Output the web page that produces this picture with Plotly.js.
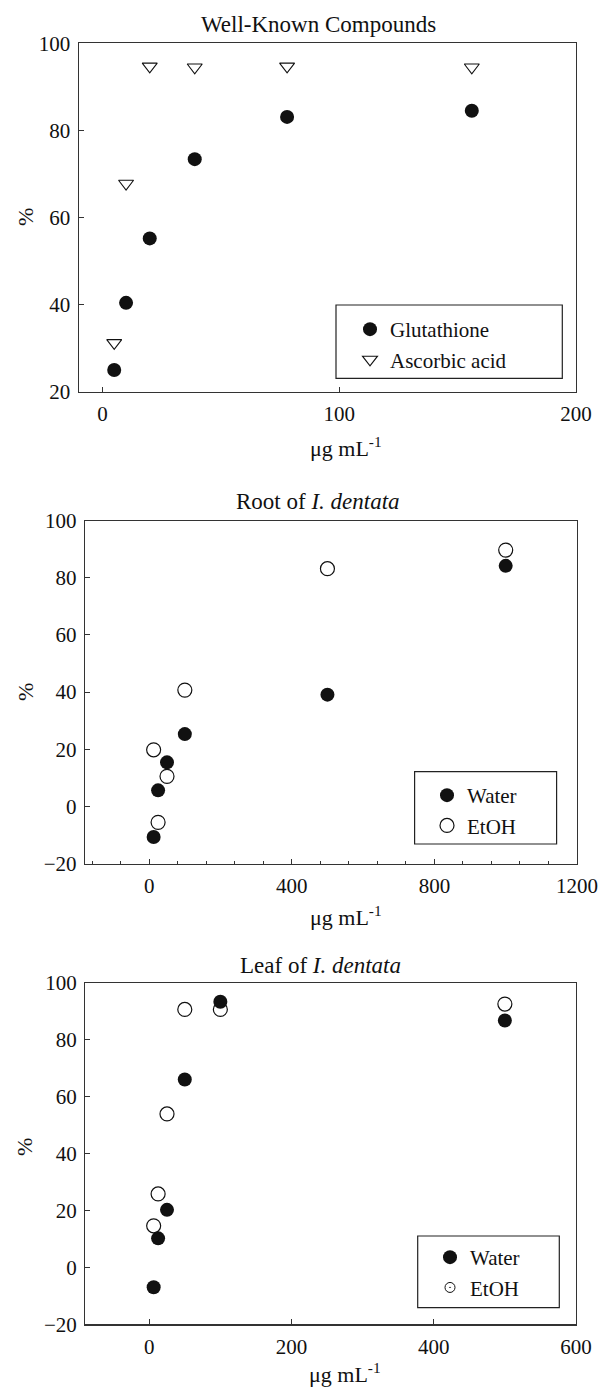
<!DOCTYPE html>
<html><head><meta charset="utf-8">
<script src="https://cdn.plot.ly/plotly-3.0.1.min.js"></script>
<style>html,body{margin:0;padding:0;background:#fff}</style>
</head><body><div id="chart" style="width:602px;height:1391px"></div>
<script>
// ---- data ----
const conc1 = [5, 10, 20, 39, 78, 156];
const glutathione = [25, 40.4, 55.2, 73.4, 83.1, 84.5];
const ascorbic = [31.2, 67.8, 94.7, 94.5, 94.7, 94.5];

const concRoot = [12.5, 25, 50, 100, 500, 1000];
const rootWater = [-10.7, 5.6, 15.4, 25.3, 39.1, 84.2];
const rootEtOH = [19.8, -5.6, 10.5, 40.7, 83.2, 89.7];

const concLeaf = [6.25, 12.5, 25, 50, 100, 500];
const leafWater = [-7, 10.2, 20.2, 66, 93.3, 86.7];
const leafEtOH = [14.6, 25.8, 53.9, 90.6, 90.6, 92.5];

const titles = ['Well-Known Compounds', 'Root of <i>I. dentata</i>', 'Leaf of <i>I. dentata</i>'];
const xTitle = 'μg mL<sup>-1</sup>';
const yTitle = '%';

// ---- layout helpers ----
const W = 602, H = 1391;
const px = v => v / W;
const py = v => 1 - v / H;
const FONT = '"Liberation Serif", "Times New Roman", serif';
const INK = '#111';

const filled = {symbol: 'circle', size: 14, color: INK, line: {width: 0}};
const openC = {symbol: 'circle-open', size: 14, color: INK, line: {width: 1.2, color: INK}};
const tri = {symbol: 'triangle-down-open', size: 13, color: INK, line: {width: 1.1, color: INK}};

const traces = [
  {x: conc1, y: glutathione, name: 'Glutathione', type: 'scatter', mode: 'markers', marker: filled, xaxis: 'x', yaxis: 'y', legend: 'legend'},
  {x: conc1, y: ascorbic, name: 'Ascorbic acid', type: 'scatter', mode: 'markers', marker: tri, xaxis: 'x', yaxis: 'y', legend: 'legend'},
  {x: concRoot, y: rootWater, name: 'Water', type: 'scatter', mode: 'markers', marker: filled, xaxis: 'x2', yaxis: 'y2', legend: 'legend2'},
  {x: concRoot, y: rootEtOH, name: 'EtOH', type: 'scatter', mode: 'markers', marker: openC, xaxis: 'x2', yaxis: 'y2', legend: 'legend2'},
  {x: concLeaf, y: leafWater, name: 'Water', type: 'scatter', mode: 'markers', marker: filled, xaxis: 'x3', yaxis: 'y3', legend: 'legend3'},
  {x: concLeaf, y: leafEtOH, name: 'EtOH', type: 'scatter', mode: 'markers', marker: openC, xaxis: 'x3', yaxis: 'y3', showlegend: false},
  {x: [null], y: [null], name: 'EtOH', type: 'scatter', mode: 'markers', marker: {symbol: 'circle-open-dot', size: 10, color: INK, line: {width: 1, color: INK}}, xaxis: 'x3', yaxis: 'y3', legend: 'legend3'}
];

function xax(domain, range, dtick, anchor, extra) {
  return Object.assign({
    domain: domain, range: range, dtick: dtick, tick0: 0, anchor: anchor,
    ticks: 'inside', ticklen: 5, tickwidth: 1, tickcolor: '#333',
    showline: true, mirror: true, linecolor: '#333', linewidth: 1.2,
    showgrid: false, zeroline: false,
    tickfont: {family: FONT, size: 21, color: INK},
    ticklabelstandoff: 3
  }, extra || {});
}
function yax(domain, range, anchor) {
  return {
    domain: domain, range: range, dtick: 20, tick0: 0, anchor: anchor,
    ticks: 'inside', ticklen: 5, tickwidth: 1, tickcolor: '#333',
    showline: true, mirror: true, linecolor: '#333', linewidth: 1.2,
    showgrid: false, zeroline: false,
    tickfont: {family: FONT, size: 21, color: INK},
    ticklabelstandoff: 3
  };
}

function legendAt(left, top) {
  return {x: px(left), y: py(top), xanchor: 'left', yanchor: 'top',
    bgcolor: 'rgba(0,0,0,0)', borderwidth: 0,
    font: {family: FONT, size: 21, color: INK}, itemsizing: 'trace'};
}
function box(x0, y0, x1, y1) {
  return {type: 'rect', xref: 'paper', yref: 'paper', x0: px(x0), x1: px(x1), y0: py(y1), y1: py(y0),
    line: {color: '#222', width: 1.2}, fillcolor: 'rgba(0,0,0,0)'};
}
function label(text, x, y, size, angle) {
  return {text: text, x: px(x), y: py(y), xref: 'paper', yref: 'paper', showarrow: false,
    xanchor: 'center', yanchor: 'middle', textangle: angle || 0,
    font: {family: FONT, size: size, color: INK}};
}

const layout = {
  width: W, height: H, margin: {l: 0, r: 0, t: 0, b: 0},
  paper_bgcolor: '#fff', plot_bgcolor: '#fff', showlegend: true,
  xaxis: xax([px(78.7), px(576)], [-10, 200], 100, 'y'),
  yaxis: yax([py(391.7), py(43.3)], [20, 100], 'x'),
  xaxis2: xax([px(85), px(577)], [-180, 1200], 400, 'y2', {minor: {dtick: 80, tick0: 0, ticks: 'inside', ticklen: 3, tickwidth: 1, tickcolor: '#333'}}),
  yaxis2: yax([py(863.5), py(520.7)], [-20, 100], 'x2'),
  xaxis3: xax([px(85.2), px(576)], [-90, 600], 200, 'y3'),
  yaxis3: yax([py(1324.3), py(982.7)], [-20, 100], 'x3'),
  legend: legendAt(350, 309),
  legend2: legendAt(427, 775),
  legend3: legendAt(430, 1237),
  shapes: [box(336, 305, 562.3, 378.3), box(414.6, 771.7, 556.6, 844), box(417.7, 1236, 559.3, 1307.7)],
  annotations: [
    label(titles[0], 318, 25, 23), label(titles[1], 318, 502, 23), label(titles[2], 320, 965, 23),
    label(xTitle, 346, 447, 22), label(xTitle, 346, 916, 22), label(xTitle, 345, 1373, 22),
    label(yTitle, 25, 217, 22, -90), label(yTitle, 25, 692, 22, -90), label(yTitle, 24, 1147, 22, -90)
  ]
};

Plotly.newPlot('chart', traces, layout, {staticPlot: true, displayModeBar: false});
</script>
</body></html>
